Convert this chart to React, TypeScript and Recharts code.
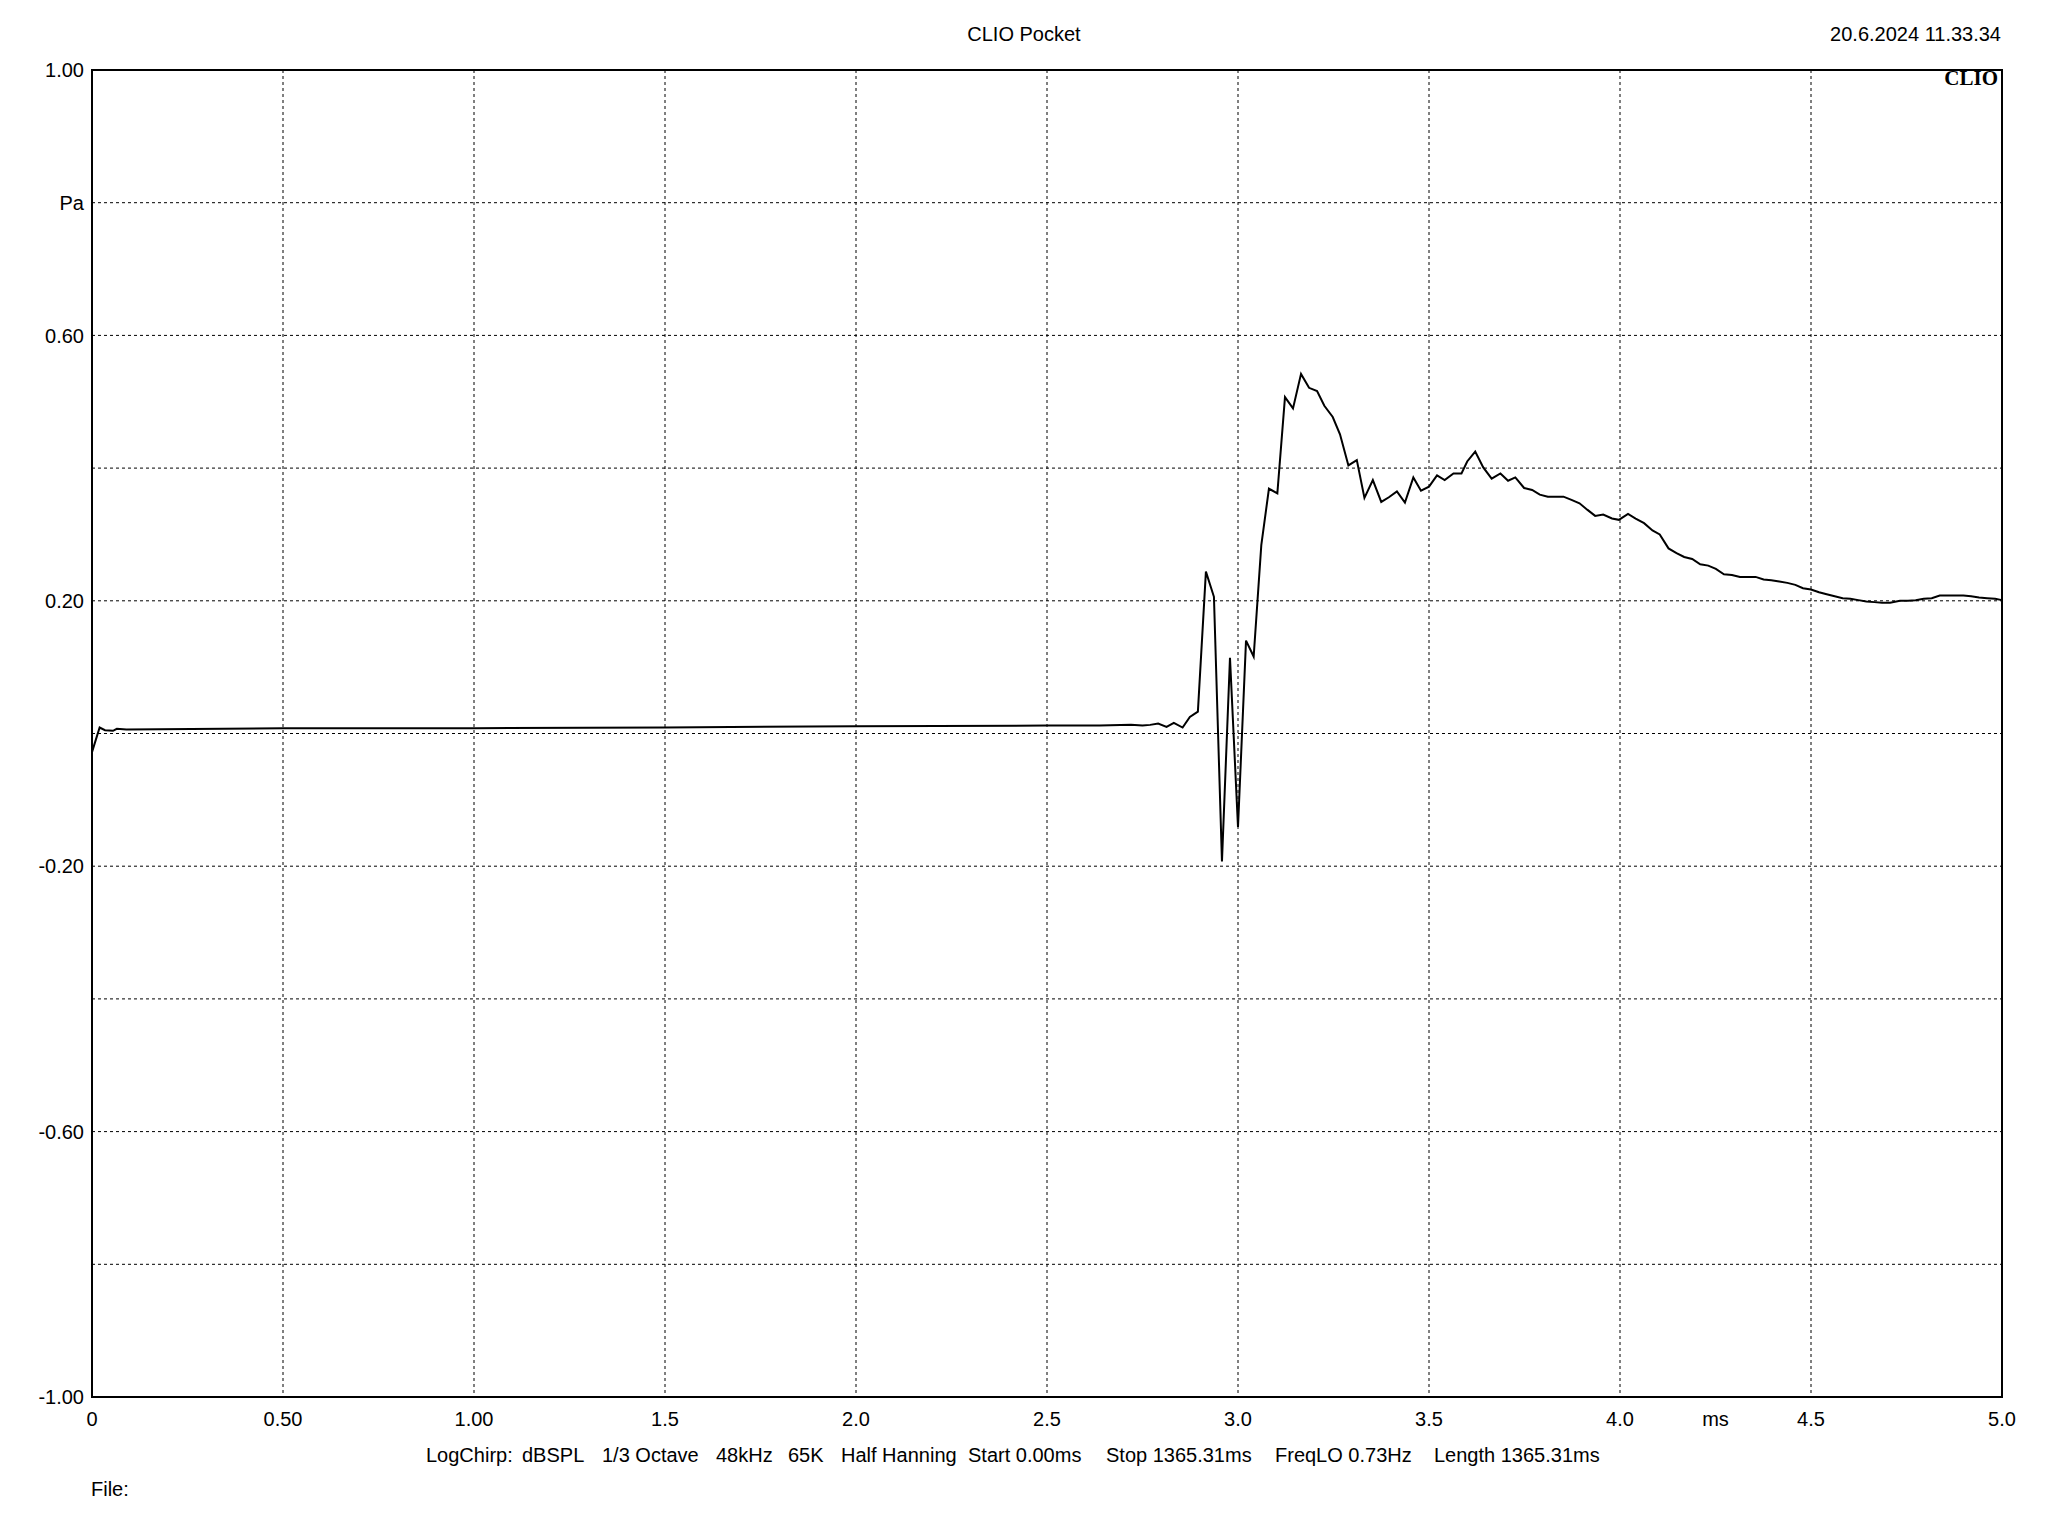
import {
  LineChart,
  Line,
  XAxis,
  YAxis,
  CartesianGrid,
  ReferenceArea,
} from "recharts";

// [time ms, pressure Pa]
const baseline: [number, number][] = [
  [0, -0.028], [0.02, 0.009], [0.034, 0.005], [0.055, 0.004], [0.065, 0.007],
  [0.09, 0.006], [0.5, 0.008], [1.0, 0.008], [1.5, 0.009], [2.0, 0.011],
  [2.5, 0.012], [2.638, 0.012], [2.72, 0.013], [2.75, 0.012], [2.77, 0.013],
];

const onset: [number, number][] = [
  [2.791, 0.015], [2.813, 0.01], [2.832, 0.016], [2.855, 0.009], [2.874, 0.025],
  [2.895, 0.033], [2.916, 0.244], [2.937, 0.206], [2.958, -0.193], [2.979, 0.114],
  [3.0, -0.141], [3.021, 0.14], [3.041, 0.116], [3.061, 0.284], [3.081, 0.369],
  [3.103, 0.362], [3.123, 0.507], [3.144, 0.49], [3.165, 0.542], [3.186, 0.521],
  [3.207, 0.516], [3.226, 0.494], [3.248, 0.477], [3.267, 0.451], [3.289, 0.404],
  [3.311, 0.412], [3.331, 0.355], [3.353, 0.382], [3.375, 0.349], [3.395, 0.356],
  [3.416, 0.365],
];

const decay: [number, number][] = [
  [3.437, 0.348], [3.459, 0.386], [3.479, 0.366], [3.5, 0.372], [3.521, 0.389],
  [3.541, 0.382], [3.564, 0.392], [3.585, 0.392], [3.6, 0.41], [3.621, 0.425],
  [3.642, 0.401], [3.664, 0.384], [3.687, 0.392], [3.707, 0.381], [3.726, 0.386],
  [3.749, 0.37], [3.77, 0.367], [3.79, 0.36], [3.811, 0.357], [3.832, 0.357],
  [3.852, 0.357], [3.873, 0.352], [3.894, 0.347], [3.915, 0.337], [3.935, 0.328],
  [3.956, 0.33], [3.979, 0.324], [3.997, 0.322], [4.021, 0.331], [4.041, 0.324],
  [4.063, 0.317], [4.085, 0.306], [4.104, 0.3], [4.127, 0.279], [4.148, 0.272],
  [4.168, 0.266], [4.189, 0.263], [4.21, 0.255], [4.231, 0.253], [4.251, 0.248],
];

const tail: [number, number][] = [
  [4.272, 0.24], [4.293, 0.239], [4.314, 0.236], [4.334, 0.236], [4.355, 0.236],
  [4.376, 0.232], [4.396, 0.231], [4.417, 0.229], [4.438, 0.227], [4.459, 0.224],
  [4.479, 0.219], [4.5, 0.217], [4.521, 0.213], [4.541, 0.21], [4.562, 0.207],
  [4.583, 0.204], [4.603, 0.203], [4.624, 0.201], [4.645, 0.199], [4.666, 0.198],
  [4.686, 0.197], [4.707, 0.197], [4.733, 0.2], [4.754, 0.2], [4.774, 0.201],
  [4.795, 0.203], [4.816, 0.204], [4.837, 0.208], [4.857, 0.208], [4.878, 0.208],
  [4.899, 0.208], [4.919, 0.207], [4.94, 0.205], [4.961, 0.204], [4.982, 0.203],
  [5.0, 0.201],
];

const xTicks = [0, 0.5, 1, 1.5, 2, 2.5, 3, 3.5, 4, 4.25, 4.5, 5];
const xLabels = ["0", "0.50", "1.00", "1.5", "2.0", "2.5", "3.0", "3.5", "4.0", "ms", "4.5", "5.0"];
const yTicks = [-1, -0.8, -0.6, -0.4, -0.2, 0, 0.2, 0.4, 0.6, 0.8, 1];
const yLabels = ["-1.00", "", "-0.60", "", "-0.20", "", "0.20", "", "0.60", "Pa", "1.00"];
const gridX = [0.5, 1, 1.5, 2, 2.5, 3, 3.5, 4, 4.5];
const gridY = [-0.8, -0.6, -0.4, -0.2, 0, 0.2, 0.4, 0.6, 0.8];

const footerItems = [
  "LogChirp:", "dBSPL", "1/3 Octave", "48kHz", "65K", "Half Hanning",
  "Start 0.00ms", "Stop 1365.31ms", "FreqLO 0.73Hz", "Length 1365.31ms",
];
const footerX = [426, 522, 602, 716, 788, 841, 968, 1106, 1275, 1434];

const data = [...baseline, ...onset, ...decay, ...tail].map(([t, v]) => ({ t, v }));

const font = "'Liberation Sans', Arial, sans-serif";

export default function App() {
  return (
    <div
      style={{
        position: "absolute",
        left: 0,
        top: 0,
        width: 2048,
        height: 1536,
        background: "#fff",
        fontFamily: font,
      }}
    >
      <LineChart
        width={2048}
        height={1536}
        data={data}
        margin={{ top: 70, right: 46, bottom: 0, left: 0 }}
      >
        <CartesianGrid
          stroke="#000"
          strokeDasharray="3 3"
          horizontalValues={gridY}
          verticalValues={gridX}
        />
        <XAxis
          dataKey="t"
          type="number"
          domain={[0, 5]}
          ticks={xTicks}
          interval={0}
          height={139}
          tickSize={0}
          tickMargin={15}
          axisLine={false}
          tickLine={false}
          tickFormatter={(v: number) => xLabels[xTicks.indexOf(v)] ?? ""}
          tick={{ fontSize: 20, fill: "#000", fontFamily: font }}
        />
        <YAxis
          type="number"
          domain={[-1, 1]}
          ticks={yTicks}
          interval={0}
          width={92}
          tickSize={0}
          tickMargin={8}
          axisLine={false}
          tickLine={false}
          tickFormatter={(v: number) => {
            const i = yTicks.findIndex((y) => Math.abs(y - v) < 1e-6);
            return i >= 0 ? yLabels[i] : "";
          }}
          tick={{ fontSize: 20, fill: "#000", fontFamily: font }}
        />
        <Line
          dataKey="v"
          type="linear"
          stroke="#000"
          strokeWidth={2}
          dot={false}
          isAnimationActive={false}
        />
        <ReferenceArea
          x1={0}
          x2={5}
          y1={-1}
          y2={1}
          fill="none"
          fillOpacity={0}
          stroke="#000"
          strokeWidth={2}
        />
      </LineChart>
      <svg
        width={2048}
        height={1536}
        style={{ position: "absolute", left: 0, top: 0, pointerEvents: "none" }}
      >
        <text x={1024} y={41} fontSize={20} textAnchor="middle" fontFamily={font}>
          CLIO Pocket
        </text>
        <text x={2001} y={41} fontSize={20} textAnchor="end" fontFamily={font}>
          20.6.2024 11.33.34
        </text>
        <text
          x={1998}
          y={85}
          fontSize={21}
          fontWeight="bold"
          textAnchor="end"
          fontFamily="'Liberation Serif', 'Times New Roman', serif"
        >
          CLIO
        </text>
        {footerItems.map((s, i) => (
          <text key={s} x={footerX[i]} y={1462} fontSize={20} fontFamily={font}>
            {s}
          </text>
        ))}
        <text x={91} y={1496} fontSize={20} fontFamily={font}>
          File:
        </text>
      </svg>
    </div>
  );
}
